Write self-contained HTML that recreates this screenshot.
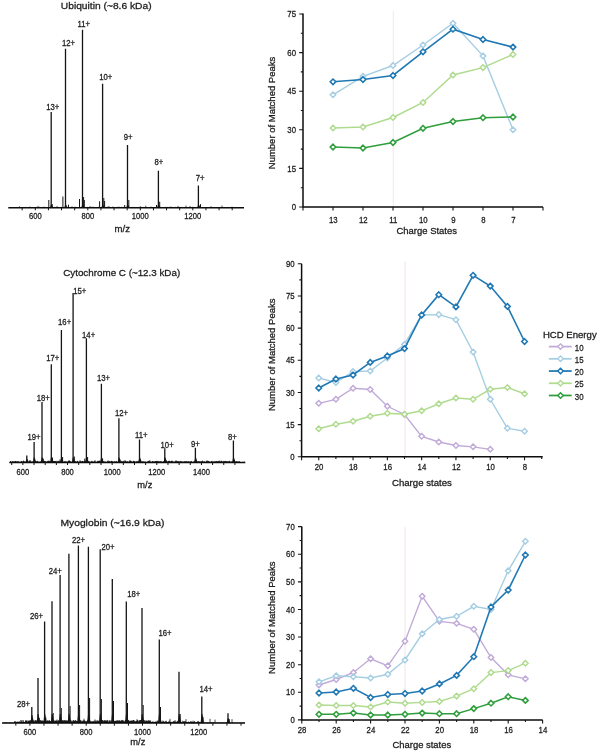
<!DOCTYPE html>
<html><head><meta charset="utf-8"><style>
html,body{margin:0;padding:0;background:#fff;width:599px;height:752px;overflow:hidden}
svg{display:block;will-change:transform}
text{font-family:"Liberation Sans", sans-serif;fill:#1c1c1c;stroke:#1c1c1c;stroke-width:0.28px}
</style></head><body>
<svg width="599" height="752" viewBox="0 0 599 752">
<rect width="599" height="752" fill="#fff"/>
<text x="60.80" y="9.30" font-size="9.9" text-anchor="start" textLength="90.80" lengthAdjust="spacingAndGlyphs" >Ubiquitin (~8.6 kDa)</text>
<path d="M19.50 207.70V206.31M30.00 207.70V206.52M38.00 207.70V205.92M44.00 207.70V206.61M57.00 207.70V206.06M72.00 207.70V206.26M75.00 207.70V206.63M90.00 207.70V206.09M93.00 207.70V206.66M109.00 207.70V206.18M113.00 207.70V206.62M119.00 207.70V206.59M140.30 207.70V206.19M145.80 207.70V205.71M151.00 207.70V206.55M171.00 207.70V206.43M178.00 207.70V205.95M186.00 207.70V205.56M190.00 207.70V206.01M211.00 207.70V206.22M222.00 207.70V205.53M232.00 207.70V206.64" stroke="#222" stroke-width="0.8" fill="none"/>
<path d="M9.00 207.70L9.00 206.90L9.60 207.30L10.20 207.40L10.80 207.42L11.40 207.28L12.00 206.93L12.60 207.37L13.20 207.09L13.80 207.05L14.40 207.24L15.00 207.12L15.60 207.46L16.20 207.46L16.80 207.36L17.40 207.02L18.00 207.20L18.60 207.28L19.20 207.09L19.80 207.18L20.40 207.29L21.00 206.94L21.60 207.01L22.20 207.33L22.80 207.10L23.40 207.13L24.00 206.89L24.60 206.99L25.20 207.30L25.80 206.81L26.40 207.42L27.00 207.21L27.60 206.97L28.20 207.39L28.80 207.16L29.40 207.47L30.00 207.03L30.60 206.96L31.20 207.10L31.80 206.89L32.40 207.28L33.00 207.01L33.60 207.08L34.20 207.09L34.80 207.18L35.40 206.91L36.00 206.84L36.60 207.17L37.20 207.04L37.80 207.46L38.40 207.01L39.00 207.05L39.60 206.80L40.20 206.92L40.80 207.30L41.40 207.23L42.00 207.03L42.60 207.48L43.20 207.18L43.80 207.38L44.40 207.42L45.00 207.46L45.60 206.96L46.20 207.41L46.80 207.33L47.40 207.23L48.00 206.89L48.60 207.44L49.20 207.19L49.80 207.12L50.40 206.88L51.00 206.93L51.60 206.90L52.20 207.31L52.80 207.21L53.40 207.25L54.00 206.88L54.60 206.83L55.20 207.39L55.80 207.38L56.40 207.34L57.00 207.34L57.60 207.16L58.20 207.09L58.80 207.32L59.40 207.50L60.00 207.21L60.60 207.24L61.20 207.10L61.80 206.83L62.40 207.02L63.00 207.14L63.60 207.07L64.20 207.03L64.80 207.46L65.40 206.87L66.00 206.95L66.60 206.89L67.20 206.94L67.80 207.23L68.40 207.22L69.00 207.43L69.60 207.06L70.20 207.46L70.80 207.45L71.40 207.35L72.00 207.39L72.60 207.26L73.20 207.46L73.80 207.50L74.40 207.39L75.00 207.43L75.60 207.25L76.20 207.48L76.80 206.89L77.40 207.07L78.00 207.40L78.60 207.32L79.20 207.26L79.80 207.25L80.40 207.41L81.00 206.91L81.60 206.80L82.20 207.17L82.80 207.16L83.40 207.44L84.00 207.43L84.60 207.26L85.20 207.31L85.80 206.92L86.40 207.39L87.00 207.48L87.60 206.83L88.20 207.13L88.80 207.40L89.40 207.12L90.00 207.48L90.60 207.13L91.20 206.82L91.80 206.90L92.40 207.01L93.00 207.32L93.60 207.24L94.20 207.38L94.80 206.96L95.40 207.13L96.00 206.95L96.60 207.27L97.20 207.34L97.80 206.93L98.40 206.81L99.00 206.90L99.60 206.94L100.20 206.93L100.80 206.98L101.40 207.34L102.00 207.14L102.60 207.25L103.20 207.48L103.80 207.48L104.40 207.30L105.00 207.32L105.60 207.02L106.20 206.83L106.80 207.19L107.40 206.84L108.00 206.81L108.60 206.83L109.20 207.24L109.80 207.35L110.40 207.34L111.00 207.36L111.60 207.36L112.20 207.06L112.80 206.87L113.40 206.91L114.00 207.16L114.60 207.04L115.20 206.94L115.80 207.44L116.40 207.04L117.00 206.86L117.60 206.95L118.20 206.97L118.80 207.17L119.40 207.38L120.00 206.95L120.60 207.27L121.20 206.94L121.80 206.82L122.40 207.22L123.00 207.22L123.60 206.84L124.20 206.99L124.80 207.38L125.40 207.41L126.00 207.39L126.60 206.87L127.20 206.94L127.80 207.40L128.40 206.92L129.00 206.81L129.60 207.04L130.20 207.25L130.80 207.12L131.40 207.41L132.00 207.49L132.60 206.82L133.20 207.05L133.80 207.13L134.40 206.85L135.00 207.20L135.60 206.89L136.20 206.92L136.80 207.35L137.40 207.32L138.00 207.29L138.60 207.33L139.20 207.09L139.80 207.32L140.40 207.21L141.00 207.41L141.60 206.86L142.20 207.25L142.80 207.18L143.40 207.09L144.00 206.87L144.60 207.21L145.20 206.86L145.80 207.15L146.40 207.13L147.00 207.13L147.60 207.49L148.20 207.19L148.80 207.37L149.40 207.50L150.00 206.94L150.60 207.38L151.20 207.17L151.80 206.99L152.40 207.11L153.00 207.27L153.60 207.14L154.20 207.11L154.80 206.95L155.40 207.43L156.00 207.11L156.60 207.33L157.20 207.31L157.80 206.96L158.40 207.14L159.00 207.11L159.60 206.97L160.20 206.86L160.80 207.19L161.40 207.07L162.00 207.15L162.60 207.14L163.20 207.02L163.80 207.18L164.40 207.13L165.00 207.17L165.60 206.84L166.20 207.01L166.80 206.89L167.40 206.84L168.00 207.32L168.60 207.11L169.20 206.84L169.80 206.91L170.40 207.40L171.00 207.41L171.60 207.19L172.20 207.45L172.80 207.33L173.40 207.45L174.00 207.03L174.60 206.95L175.20 206.87L175.80 207.39L176.40 207.00L177.00 207.04L177.60 207.40L178.20 206.88L178.80 206.82L179.40 207.35L180.00 206.83L180.60 207.22L181.20 207.16L181.80 206.81L182.40 206.92L183.00 207.39L183.60 207.20L184.20 207.14L184.80 207.26L185.40 207.36L186.00 207.28L186.60 206.99L187.20 207.49L187.80 207.11L188.40 207.19L189.00 207.49L189.60 207.27L190.20 207.06L190.80 207.14L191.40 207.45L192.00 206.81L192.60 206.95L193.20 206.82L193.80 207.43L194.40 207.31L195.00 207.47L195.60 206.95L196.20 207.31L196.80 207.41L197.40 207.20L198.00 206.86L198.60 206.93L199.20 207.32L199.80 207.40L200.40 207.42L201.00 207.53L201.60 207.49L202.20 207.67L202.80 207.68L203.40 207.49L204.00 207.57L204.60 207.68L205.20 207.42L205.80 207.51L206.40 207.46L207.00 207.67L207.60 207.44L208.20 207.68L208.80 207.44L209.40 207.56L210.00 207.60L210.60 207.53L211.20 207.42L211.80 207.62L212.40 207.66L213.00 207.54L213.60 207.63L214.20 207.67L214.80 207.65L215.40 207.68L216.00 207.64L216.60 207.61L217.20 207.61L217.80 207.47L218.40 207.61L219.00 207.55L219.60 207.65L220.20 207.60L220.80 207.69L221.40 207.62L222.00 207.70L222.60 207.48L223.20 207.53L223.80 207.64L224.40 207.56L225.00 207.42L225.60 207.67L226.20 207.45L226.80 207.57L227.40 207.55L228.00 207.45L228.60 207.58L229.20 207.55L229.80 207.49L230.40 207.41L231.00 207.60L231.60 207.45L232.20 207.49L232.80 207.51L233.40 207.58L234.00 207.60L234.60 207.68L235.20 207.66L235.80 207.68L236.40 207.48L237.00 207.62L237.60 207.65L238.20 207.67L238.80 207.45L239.40 207.44L240.00 207.50L240.60 207.62L241.20 207.63L241.80 207.61L242.40 207.56L243.00 207.65L243.00 207.70Z" fill="#1a1a1a"/>
<path d="M50.00 207.70L50.90 204.70L51.80 204.70L53.40 207.70ZM64.30 207.70L65.20 204.70L66.10 204.70L67.70 207.70ZM81.30 207.70L82.20 204.70L83.10 204.70L84.70 207.70ZM101.40 207.70L102.30 204.70L103.20 204.70L104.80 207.70ZM126.30 207.70L127.20 204.70L128.10 204.70L129.70 207.70ZM157.20 207.70L158.10 204.70L159.00 204.70L160.60 207.70ZM197.20 207.70L198.10 204.70L199.00 204.70L200.60 207.70Z" fill="#1a1a1a"/>
<path d="M48.80 207.70V200.00M52.20 207.70V204.00M62.90 207.70V196.50M68.50 207.70V204.70M79.50 207.70V199.00M83.60 207.70V197.00M84.30 207.70V200.00M99.60 207.70V201.20M103.80 207.70V198.00M104.60 207.70V201.00M124.70 207.70V205.00M128.80 207.70V200.00M159.70 207.70V201.70M200.50 207.70V204.20M156.50 207.70V205.00" stroke="#151515" stroke-width="1.0" fill="none"/>
<path d="M51.20 207.70V112.00M65.50 207.70V48.70M82.50 207.70V29.70M102.60 207.70V83.80M127.50 207.70V145.00M158.40 207.70V170.80M198.40 207.70V185.50" stroke="#141414" stroke-width="1.3" fill="none"/>
<line x1="8.30" y1="207.70" x2="244.00" y2="207.70" stroke="#0d0d0d" stroke-width="1.5"/>
<path d="M22.18 207.70V210.30M35.30 207.70V210.30M48.43 207.70V210.30M61.55 207.70V210.30M74.68 207.70V210.30M87.80 207.70V210.30M100.93 207.70V210.30M114.05 207.70V210.30M127.18 207.70V210.30M140.30 207.70V210.30M153.43 207.70V210.30M166.55 207.70V210.30M179.68 207.70V210.30M192.80 207.70V210.30M205.93 207.70V210.30M219.05 207.70V210.30M232.18 207.70V210.30" stroke="#111" stroke-width="1.0" fill="none"/>
<text x="35.30" y="218.60" font-size="8.6" text-anchor="middle" textLength="12.68" lengthAdjust="spacingAndGlyphs" >600</text>
<text x="87.80" y="218.60" font-size="8.6" text-anchor="middle" textLength="12.68" lengthAdjust="spacingAndGlyphs" >800</text>
<text x="140.30" y="218.60" font-size="8.6" text-anchor="middle" textLength="16.91" lengthAdjust="spacingAndGlyphs" >1000</text>
<text x="192.80" y="218.60" font-size="8.6" text-anchor="middle" textLength="16.91" lengthAdjust="spacingAndGlyphs" >1200</text>
<text x="46.30" y="109.50" font-size="8.4" text-anchor="start" textLength="13.06" lengthAdjust="spacingAndGlyphs" >13+</text>
<text x="62.00" y="45.80" font-size="8.4" text-anchor="start" textLength="13.06" lengthAdjust="spacingAndGlyphs" >12+</text>
<text x="77.50" y="26.70" font-size="8.4" text-anchor="start" textLength="12.49" lengthAdjust="spacingAndGlyphs" >11+</text>
<text x="99.30" y="79.50" font-size="8.4" text-anchor="start" textLength="13.06" lengthAdjust="spacingAndGlyphs" >10+</text>
<text x="123.80" y="140.00" font-size="8.4" text-anchor="start" textLength="8.78" lengthAdjust="spacingAndGlyphs" >9+</text>
<text x="154.50" y="164.50" font-size="8.4" text-anchor="start" textLength="8.78" lengthAdjust="spacingAndGlyphs" >8+</text>
<text x="195.80" y="180.50" font-size="8.4" text-anchor="start" textLength="8.78" lengthAdjust="spacingAndGlyphs" >7+</text>
<text x="114.60" y="232.20" font-size="9.6" text-anchor="start" textLength="15.40" lengthAdjust="spacingAndGlyphs" >m/z</text>
<text x="63.20" y="275.70" font-size="9.9" text-anchor="start" textLength="117.00" lengthAdjust="spacingAndGlyphs" >Cytochrome C (~12.3 kDa)</text>
<path d="M10.89 462.40V461.84M14.92 462.40V461.13M17.09 462.40V461.86M20.93 462.40V461.79M22.71 462.40V462.10M25.76 462.40V461.63M29.01 462.40V461.90M32.01 462.40V462.10M34.53 462.40V462.01M37.80 462.40V462.06M40.04 462.40V461.80M43.47 462.40V461.51M47.06 462.40V461.35M50.32 462.40V461.38M53.76 462.40V461.71M55.65 462.40V461.12M58.30 462.40V461.38M62.29 462.40V462.06M65.67 462.40V461.21M68.25 462.40V461.37M71.62 462.40V461.96M74.05 462.40V461.60M77.67 462.40V461.30M80.65 462.40V461.52M83.79 462.40V461.42M86.39 462.40V461.87M88.06 462.40V461.97M91.72 462.40V462.00M95.67 462.40V461.54M98.26 462.40V461.47M101.36 462.40V461.61M103.01 462.40V461.30M107.50 462.40V461.60M110.07 462.40V461.44M112.13 462.40V461.36M115.50 462.40V462.03M118.53 462.40V461.37M121.41 462.40V461.36M125.95 462.40V461.61M127.77 462.40V461.62M131.37 462.40V461.33M134.23 462.40V461.46M136.15 462.40V461.95M139.51 462.40V461.36M142.61 462.40V461.53M145.02 462.40V462.04M148.54 462.40V461.43M152.38 462.40V461.42M154.58 462.40V461.58M157.93 462.40V461.63M160.24 462.40V461.21M163.40 462.40V461.12M167.87 462.40V462.08M169.92 462.40V461.28M173.94 462.40V461.65M175.54 462.40V461.89M179.89 462.40V461.89M182.16 462.40V461.96M185.05 462.40V461.15M187.27 462.40V461.28M191.02 462.40V461.21M194.41 462.40V461.87M197.80 462.40V461.61M199.05 462.40V462.10M202.98 462.40V461.65M205.60 462.40V461.96M208.69 462.40V461.78M212.68 462.40V462.10M215.50 462.40V461.26M217.24 462.40V461.17M221.43 462.40V461.20M223.58 462.40V461.73M226.79 462.40V461.10M230.18 462.40V461.74M232.86 462.40V461.82M235.10 462.40V462.00M239.67 462.40V461.81M242.87 462.40V461.85M244.53 462.40V461.59M48.00 462.40V460.95M57.00 462.40V460.71M69.00 462.40V459.96M80.00 462.40V460.05M95.00 462.40V460.14M108.00 462.40V460.38M125.00 462.40V460.01M130.00 462.40V459.98M150.00 462.40V460.49M176.00 462.40V460.26M185.00 462.40V461.14M207.00 462.40V460.25M220.00 462.40V460.61" stroke="#222" stroke-width="0.8" fill="none"/>
<path d="M10.00 462.40L10.00 460.95L10.60 461.10L11.20 461.60L11.80 461.93L12.40 460.70L13.00 461.82L13.60 461.34L14.20 461.52L14.80 461.58L15.40 460.97L16.00 460.63L16.60 461.64L17.20 461.08L17.80 461.58L18.40 461.22L19.00 461.45L19.60 461.77L20.20 461.77L20.80 461.71L21.40 460.73L22.00 461.30L22.60 461.69L23.20 460.73L23.80 460.60L24.40 461.37L25.00 461.80L25.60 461.73L26.20 461.87L26.80 461.52L27.40 461.87L28.00 461.67L28.60 461.64L29.20 461.20L29.80 460.76L30.40 460.95L31.00 461.42L31.60 461.42L32.20 461.27L32.80 461.47L33.40 461.53L34.00 461.91L34.60 461.61L35.20 460.65L35.80 461.82L36.40 461.30L37.00 461.12L37.60 460.79L38.20 461.70L38.80 461.62L39.40 461.65L40.00 461.44L40.60 461.38L41.20 460.66L41.80 460.81L42.40 460.78L43.00 461.97L43.60 461.95L44.20 461.01L44.80 460.75L45.40 461.34L46.00 461.18L46.60 462.00L47.20 461.45L47.80 460.70L48.40 460.84L49.00 460.80L49.60 460.64L50.20 461.65L50.80 461.85L51.40 461.78L52.00 461.27L52.60 461.05L53.20 460.68L53.80 460.99L54.40 461.09L55.00 460.93L55.60 461.36L56.20 461.23L56.80 461.94L57.40 460.90L58.00 461.67L58.60 460.71L59.20 461.10L59.80 461.57L60.40 461.82L61.00 461.65L61.60 461.11L62.20 461.02L62.80 461.84L63.40 461.90L64.00 461.27L64.60 461.18L65.20 461.46L65.80 461.69L66.40 461.16L67.00 461.99L67.60 461.58L68.20 461.36L68.80 460.66L69.40 461.10L70.00 460.76L70.60 461.33L71.20 461.67L71.80 461.65L72.40 460.66L73.00 461.01L73.60 461.57L74.20 461.97L74.80 461.30L75.40 461.06L76.00 461.41L76.60 461.64L77.20 461.07L77.80 460.70L78.40 461.68L79.00 461.95L79.60 461.53L80.20 461.41L80.80 461.04L81.40 461.72L82.00 460.88L82.60 460.97L83.20 461.29L83.80 461.71L84.40 460.64L85.00 461.56L85.60 460.85L86.20 461.68L86.80 461.69L87.40 460.94L88.00 461.59L88.60 460.67L89.20 461.31L89.80 461.74L90.40 461.69L91.00 461.42L91.60 461.07L92.20 460.67L92.80 461.80L93.40 461.45L94.00 461.70L94.60 460.64L95.20 461.80L95.80 461.93L96.40 461.92L97.00 461.45L97.60 460.74L98.20 460.76L98.80 460.97L99.40 460.60L100.00 460.70L100.60 461.54L101.20 461.74L101.80 460.69L102.40 460.96L103.00 461.96L103.60 461.07L104.20 461.47L104.80 461.48L105.40 461.54L106.00 461.76L106.60 462.00L107.20 461.61L107.80 461.51L108.40 460.66L109.00 461.83L109.60 460.65L110.20 461.71L110.80 461.50L111.40 460.85L112.00 460.85L112.60 461.39L113.20 461.93L113.80 461.34L114.40 461.48L115.00 460.71L115.60 461.73L116.20 461.49L116.80 460.74L117.40 461.96L118.00 461.42L118.60 460.86L119.20 460.93L119.80 461.94L120.40 461.95L121.00 461.91L121.60 460.71L122.20 461.64L122.80 460.95L123.40 460.74L124.00 461.53L124.60 461.62L125.20 460.66L125.80 461.14L126.40 461.63L127.00 461.00L127.60 461.56L128.20 461.61L128.80 461.99L129.40 460.94L130.00 460.72L130.60 461.11L131.20 460.68L131.80 461.97L132.40 461.67L133.00 461.33L133.60 460.66L134.20 460.66L134.80 461.46L135.40 461.65L136.00 461.40L136.60 461.31L137.20 460.70L137.80 461.74L138.40 460.88L139.00 460.97L139.60 460.85L140.20 460.92L140.80 461.15L141.40 461.54L142.00 461.55L142.60 461.49L143.20 460.90L143.80 461.89L144.40 461.72L145.00 460.95L145.60 461.65L146.20 461.91L146.80 461.95L147.40 461.23L148.00 461.54L148.60 460.63L149.20 460.76L149.80 460.62L150.40 461.63L151.00 461.88L151.60 461.87L152.20 461.30L152.80 461.01L153.40 461.37L154.00 461.67L154.60 461.42L155.20 461.13L155.80 461.06L156.40 460.95L157.00 460.81L157.60 461.07L158.20 461.83L158.80 460.82L159.40 461.59L160.00 461.21L160.60 461.48L161.20 460.97L161.80 461.72L162.40 461.65L163.00 461.66L163.60 461.79L164.20 460.76L164.80 461.19L165.40 461.54L166.00 461.45L166.60 460.61L167.20 461.29L167.80 461.68L168.40 460.87L169.00 461.09L169.60 460.61L170.20 461.86L170.80 461.34L171.40 460.85L172.00 460.82L172.60 460.72L173.20 461.94L173.80 461.59L174.40 461.83L175.00 461.73L175.60 460.64L176.20 461.18L176.80 460.70L177.40 461.48L178.00 460.79L178.60 461.37L179.20 461.64L179.80 460.91L180.40 460.68L181.00 461.85L181.60 461.17L182.20 461.13L182.80 461.70L183.40 461.48L184.00 461.80L184.60 461.71L185.20 461.64L185.80 461.16L186.40 461.09L187.00 461.72L187.60 461.98L188.20 461.54L188.80 461.05L189.40 461.74L190.00 461.56L190.60 461.72L191.20 460.89L191.80 461.23L192.40 461.91L193.00 461.86L193.60 461.45L194.20 461.23L194.80 461.11L195.40 461.87L196.00 461.77L196.60 461.03L197.20 461.43L197.80 461.60L198.40 461.57L199.00 460.67L199.60 461.56L200.20 461.21L200.80 461.50L201.40 461.42L202.00 460.79L202.60 460.60L203.20 461.49L203.80 461.72L204.40 460.98L205.00 461.71L205.60 461.99L206.20 460.74L206.80 461.41L207.40 460.85L208.00 461.43L208.60 460.76L209.20 461.35L209.80 461.77L210.40 461.98L211.00 461.23L211.60 461.10L212.20 460.73L212.80 461.88L213.40 461.13L214.00 461.48L214.60 461.29L215.20 461.80L215.80 461.60L216.40 461.27L217.00 460.70L217.60 461.85L218.20 461.31L218.80 460.87L219.40 460.65L220.00 461.72L220.60 461.82L221.20 460.68L221.80 460.63L222.40 461.32L223.00 461.93L223.60 460.70L224.20 461.46L224.80 460.73L225.40 461.13L226.00 460.85L226.60 461.78L227.20 460.90L227.80 461.69L228.40 461.43L229.00 460.82L229.60 460.84L230.20 461.74L230.80 461.69L231.40 461.44L232.00 461.27L232.60 461.46L233.20 461.83L233.80 461.65L234.40 460.99L235.00 460.74L235.60 461.94L236.20 461.21L236.80 460.94L237.40 461.95L238.00 460.83L238.60 461.84L239.20 461.16L239.80 461.23L240.00 462.40Z" fill="#1a1a1a"/>
<path d="M25.60 462.40L26.50 459.00L27.40 459.00L29.00 462.40ZM32.90 462.40L33.80 457.40L34.70 457.40L36.30 462.40ZM40.80 462.40L41.70 457.40L42.60 457.40L44.20 462.40ZM50.10 462.40L51.00 457.40L51.90 457.40L53.50 462.40ZM60.20 462.40L61.10 457.40L62.00 457.40L63.60 462.40ZM71.90 462.40L72.80 457.40L73.70 457.40L75.30 462.40ZM85.20 462.40L86.10 457.40L87.00 457.40L88.60 462.40ZM100.20 462.40L101.10 457.40L102.00 457.40L103.60 462.40ZM117.70 462.40L118.60 457.40L119.50 457.40L121.10 462.40ZM138.30 462.40L139.20 457.40L140.10 457.40L141.70 462.40ZM163.60 462.40L164.50 457.40L165.40 457.40L167.00 462.40ZM194.20 462.40L195.10 457.40L196.00 457.40L197.60 462.40ZM232.20 462.40L233.10 457.40L234.00 457.40L235.60 462.40Z" fill="#1a1a1a"/>
<path d="M43.20 462.40V458.50M52.50 462.40V457.50M62.60 462.40V457.00M74.30 462.40V456.50M87.60 462.40V457.00M102.60 462.40V458.50M120.00 462.40V459.50M140.60 462.40V459.50M60.00 462.40V459.50M84.80 462.40V458.50M30.00 462.40V460.00M166.00 462.40V460.00M234.50 462.40V460.00" stroke="#151515" stroke-width="1.0" fill="none"/>
<path d="M26.80 462.40V455.60M34.10 462.40V442.00M42.00 462.40V402.00M51.30 462.40V364.30M61.40 462.40V330.00M73.10 462.40V293.00M86.40 462.40V338.20M101.40 462.40V383.80M118.90 462.40V418.30M139.50 462.40V439.60M164.80 462.40V448.20M195.40 462.40V447.70M233.40 462.40V440.60" stroke="#141414" stroke-width="1.3" fill="none"/>
<line x1="9.30" y1="462.40" x2="245.30" y2="462.40" stroke="#0d0d0d" stroke-width="1.5"/>
<path d="M11.72 462.40V465.00M22.88 462.40V465.00M34.04 462.40V465.00M45.20 462.40V465.00M56.36 462.40V465.00M67.52 462.40V465.00M78.68 462.40V465.00M89.84 462.40V465.00M101.00 462.40V465.00M112.16 462.40V465.00M123.32 462.40V465.00M134.48 462.40V465.00M145.64 462.40V465.00M156.80 462.40V465.00M167.96 462.40V465.00M179.12 462.40V465.00M190.28 462.40V465.00M201.44 462.40V465.00M212.60 462.40V465.00M223.76 462.40V465.00M234.92 462.40V465.00" stroke="#111" stroke-width="1.0" fill="none"/>
<text x="22.88" y="474.60" font-size="8.6" text-anchor="middle" textLength="12.68" lengthAdjust="spacingAndGlyphs" >600</text>
<text x="67.52" y="474.60" font-size="8.6" text-anchor="middle" textLength="12.68" lengthAdjust="spacingAndGlyphs" >800</text>
<text x="112.16" y="474.60" font-size="8.6" text-anchor="middle" textLength="16.91" lengthAdjust="spacingAndGlyphs" >1000</text>
<text x="156.80" y="474.60" font-size="8.6" text-anchor="middle" textLength="16.91" lengthAdjust="spacingAndGlyphs" >1200</text>
<text x="201.44" y="474.60" font-size="8.6" text-anchor="middle" textLength="16.91" lengthAdjust="spacingAndGlyphs" >1400</text>
<text x="27.50" y="439.50" font-size="8.4" text-anchor="start" textLength="13.06" lengthAdjust="spacingAndGlyphs" >19+</text>
<text x="36.80" y="400.50" font-size="8.4" text-anchor="start" textLength="13.06" lengthAdjust="spacingAndGlyphs" >18+</text>
<text x="46.30" y="360.80" font-size="8.4" text-anchor="start" textLength="13.06" lengthAdjust="spacingAndGlyphs" >17+</text>
<text x="58.10" y="325.30" font-size="8.4" text-anchor="start" textLength="13.06" lengthAdjust="spacingAndGlyphs" >16+</text>
<text x="73.20" y="294.20" font-size="8.4" text-anchor="start" textLength="13.06" lengthAdjust="spacingAndGlyphs" >15+</text>
<text x="82.10" y="337.50" font-size="8.4" text-anchor="start" textLength="13.06" lengthAdjust="spacingAndGlyphs" >14+</text>
<text x="97.00" y="381.30" font-size="8.4" text-anchor="start" textLength="13.06" lengthAdjust="spacingAndGlyphs" >13+</text>
<text x="115.00" y="415.80" font-size="8.4" text-anchor="start" textLength="13.06" lengthAdjust="spacingAndGlyphs" >12+</text>
<text x="135.00" y="437.50" font-size="8.4" text-anchor="start" textLength="12.49" lengthAdjust="spacingAndGlyphs" >11+</text>
<text x="160.60" y="447.70" font-size="8.4" text-anchor="start" textLength="13.06" lengthAdjust="spacingAndGlyphs" >10+</text>
<text x="191.00" y="446.80" font-size="8.4" text-anchor="start" textLength="8.78" lengthAdjust="spacingAndGlyphs" >9+</text>
<text x="228.00" y="440.00" font-size="8.4" text-anchor="start" textLength="8.78" lengthAdjust="spacingAndGlyphs" >8+</text>
<text x="137.30" y="487.80" font-size="9.6" text-anchor="start" textLength="15.00" lengthAdjust="spacingAndGlyphs" >m/z</text>
<text x="60.40" y="526.30" font-size="9.9" text-anchor="start" textLength="104.10" lengthAdjust="spacingAndGlyphs" >Myoglobin (~16.9 kDa)</text>
<path d="M3.50 723.10V722.59M4.34 723.10V722.39M5.34 723.10V722.34M6.36 723.10V722.49M7.02 723.10V722.37M8.39 723.10V722.64M9.61 723.10V722.25M10.37 723.10V722.67M11.38 723.10V722.73M12.10 723.10V722.50M13.07 723.10V722.49M14.41 723.10V722.77M15.51 723.10V722.74M16.59 723.10V722.26M17.41 723.10V722.76M18.40 723.10V722.54M19.76 723.10V722.43M20.69 723.10V720.11M21.59 723.10V720.60M22.15 723.10V720.15M23.39 723.10V720.22M24.73 723.10V722.35M25.63 723.10V720.29M26.05 723.10V721.85M27.60 723.10V722.37M28.72 723.10V722.06M29.65 723.10V722.41M30.40 723.10V720.32M31.17 723.10V722.09M32.40 723.10V721.94M33.03 723.10V722.31M34.13 723.10V720.27M35.54 723.10V720.38M36.13 723.10V720.68M37.09 723.10V721.37M38.51 723.10V721.83M39.70 723.10V721.30M40.46 723.10V720.42M41.08 723.10V720.12M42.50 723.10V721.74M43.64 723.10V722.09M44.79 723.10V721.24M45.29 723.10V720.74M46.35 723.10V722.32M47.59 723.10V722.67M48.66 723.10V722.12M49.51 723.10V720.14M50.47 723.10V721.01M51.25 723.10V722.80M52.03 723.10V722.40M53.49 723.10V721.63M54.41 723.10V720.38M55.11 723.10V722.19M56.52 723.10V722.74M57.00 723.10V721.84M58.09 723.10V721.84M59.18 723.10V721.22M60.47 723.10V722.25M61.50 723.10V721.52M62.11 723.10V720.27M63.19 723.10V722.40M64.08 723.10V721.08M65.70 723.10V720.69M66.32 723.10V722.09M67.01 723.10V721.06M68.45 723.10V721.85M69.52 723.10V721.60M70.75 723.10V720.82M71.20 723.10V720.36M72.04 723.10V721.36M73.32 723.10V722.16M74.05 723.10V720.70M75.01 723.10V721.31M76.75 723.10V722.42M77.16 723.10V721.16M78.41 723.10V721.07M79.65 723.10V722.33M80.25 723.10V721.99M81.04 723.10V720.40M82.63 723.10V720.87M83.01 723.10V720.52M84.60 723.10V721.54M85.59 723.10V721.58M86.18 723.10V722.52M87.19 723.10V722.70M88.27 723.10V720.78M89.56 723.10V720.52M90.57 723.10V722.08M91.44 723.10V721.62M92.63 723.10V721.39M93.21 723.10V721.07M94.77 723.10V722.21M95.70 723.10V722.76M96.21 723.10V722.16M97.60 723.10V720.25M98.60 723.10V721.92M99.70 723.10V721.91M100.19 723.10V720.35M101.50 723.10V720.93M102.53 723.10V720.16M103.38 723.10V720.53M104.56 723.10V720.48M105.35 723.10V720.84M106.46 723.10V721.97M107.17 723.10V721.12M108.06 723.10V720.34M109.12 723.10V722.73M110.09 723.10V720.29M111.28 723.10V722.42M112.02 723.10V722.69M113.55 723.10V721.09M114.56 723.10V720.81M115.05 723.10V721.21M116.29 723.10V720.59M117.66 723.10V720.39M118.05 723.10V720.46M119.73 723.10V720.25M120.09 723.10V722.24M121.09 723.10V722.71M122.68 723.10V720.61M123.51 723.10V720.57M124.51 723.10V722.02M125.08 723.10V722.54M126.61 723.10V722.25M127.26 723.10V721.66M128.02 723.10V722.11M129.23 723.10V720.87M130.29 723.10V721.93M131.77 723.10V721.44M132.68 723.10V721.13M133.02 723.10V721.69M134.35 723.10V720.71M135.28 723.10V720.90M136.43 723.10V722.22M137.69 723.10V722.55M138.66 723.10V722.34M139.00 723.10V722.25M140.61 723.10V720.16M141.00 723.10V721.47M142.39 723.10V720.65M143.15 723.10V721.46M144.28 723.10V720.55M145.21 723.10V720.25M146.23 723.10V722.22M147.56 723.10V721.45M148.09 723.10V721.08M149.06 723.10V720.67M150.56 723.10V720.68M151.50 723.10V721.84M152.32 723.10V721.73M153.71 723.10V722.57M154.71 723.10V722.73M155.16 723.10V722.09M156.72 723.10V721.45M157.30 723.10V720.41M158.19 723.10V721.56M159.43 723.10V720.76M160.60 723.10V721.05M161.28 723.10V721.92M162.12 723.10V720.52M163.53 723.10V720.80M164.14 723.10V721.62M165.62 723.10V721.24M166.10 723.10V721.55M167.71 723.10V722.16M168.15 723.10V721.99M169.56 723.10V720.52M170.12 723.10V722.38M171.20 723.10V721.92M172.42 723.10V722.37M173.26 723.10V722.29M174.78 723.10V720.83M175.08 723.10V720.20M176.08 723.10V721.76M177.79 723.10V720.65M178.59 723.10V721.63M179.16 723.10V721.08M180.09 723.10V722.24M181.31 723.10V722.71M182.32 723.10V720.66M183.55 723.10V721.45M184.51 723.10V721.55M185.11 723.10V721.17M186.32 723.10V722.28M187.73 723.10V722.50M188.46 723.10V722.28M189.34 723.10V722.64M190.58 723.10V722.18M191.62 723.10V722.31M192.68 723.10V722.32M193.51 723.10V722.48M194.25 723.10V722.36M195.08 723.10V722.51M196.63 723.10V722.30M197.50 723.10V722.62M198.34 723.10V722.48M199.50 723.10V722.51M200.54 723.10V722.15M201.15 723.10V722.34M202.62 723.10V722.53M203.39 723.10V722.12M204.03 723.10V722.42M205.13 723.10V722.25M206.75 723.10V722.44M207.08 723.10V722.40M208.43 723.10V722.30M209.41 723.10V722.35M210.66 723.10V722.43M211.33 723.10V722.14M212.17 723.10V722.32M213.31 723.10V722.27M214.10 723.10V722.11M215.28 723.10V722.76M216.22 723.10V722.52M217.01 723.10V722.51M218.34 723.10V722.31M219.28 723.10V722.61M220.18 723.10V722.28M221.75 723.10V722.43M222.18 723.10V722.24M223.31 723.10V722.65M224.10 723.10V722.26M225.65 723.10V722.36M226.38 723.10V722.41M227.18 723.10V722.13M228.28 723.10V722.67M229.65 723.10V722.64M230.37 723.10V722.74M231.44 723.10V722.77M232.67 723.10V722.73M233.68 723.10V722.75M234.30 723.10V722.75M235.34 723.10V722.76M236.00 723.10V722.66M237.22 723.10V722.75M238.24 723.10V722.70M239.34 723.10V722.67M240.53 723.10V722.73M241.74 723.10V722.63M242.05 723.10V722.63M243.72 723.10V722.64M244.11 723.10V722.63M57.00 723.10V719.52M63.00 723.10V721.06M75.00 723.10V721.07M84.00 723.10V718.72M95.00 723.10V719.46M107.00 723.10V720.47M118.00 723.10V720.85M121.00 723.10V720.74M132.00 723.10V720.52M137.00 723.10V719.16M150.00 723.10V720.23M166.00 723.10V720.72M170.00 723.10V718.84M186.00 723.10V719.12M193.00 723.10V720.68M210.00 723.10V718.87M215.00 723.10V719.58M232.00 723.10V719.15" stroke="#222" stroke-width="0.8" fill="none"/>
<path d="M14.00 723.10L14.00 721.56L14.60 721.25L15.20 721.40L15.80 721.33L16.40 722.22L17.00 721.53L17.60 721.76L18.20 721.46L18.80 721.89L19.40 721.26L20.00 721.72L20.60 722.13L21.20 722.17L21.80 722.30L22.40 721.81L23.00 722.42L23.60 721.85L24.20 722.30L24.80 721.81L25.40 720.80L26.00 720.71L26.60 720.00L27.20 721.89L27.80 720.05L28.40 720.87L29.00 720.66L29.60 720.44L30.20 720.05L30.80 721.08L31.40 720.98L32.00 719.79L32.60 721.73L33.20 720.50L33.80 720.50L34.40 721.84L35.00 720.56L35.60 720.40L36.20 719.85L36.80 721.17L37.40 719.74L38.00 720.78L38.60 720.83L39.20 719.93L39.80 721.83L40.40 720.32L41.00 720.52L41.60 721.16L42.20 720.00L42.80 721.09L43.40 720.86L44.00 720.74L44.60 720.20L45.20 721.44L45.80 720.94L46.40 720.97L47.00 720.68L47.60 720.08L48.20 721.26L48.80 720.08L49.40 721.01L50.00 720.79L50.60 721.30L51.20 720.79L51.80 719.76L52.40 720.46L53.00 720.16L53.60 721.17L54.20 721.20L54.80 721.24L55.40 720.61L56.00 720.50L56.60 720.17L57.20 721.81L57.80 720.31L58.40 719.95L59.00 720.70L59.60 721.79L60.20 721.24L60.80 721.89L61.40 721.48L62.00 719.87L62.60 720.56L63.20 720.45L63.80 720.16L64.40 719.90L65.00 720.55L65.60 720.54L66.20 720.52L66.80 720.37L67.40 720.59L68.00 720.40L68.60 721.43L69.20 720.43L69.80 720.89L70.40 720.22L71.00 721.68L71.60 721.50L72.20 721.82L72.80 720.20L73.40 719.89L74.00 720.46L74.60 721.09L75.20 720.09L75.80 720.17L76.40 720.66L77.00 721.33L77.60 721.24L78.20 720.97L78.80 721.20L79.40 720.95L80.00 720.49L80.60 719.85L81.20 721.78L81.80 720.65L82.40 721.81L83.00 721.64L83.60 720.12L84.20 720.63L84.80 719.88L85.40 720.92L86.00 721.87L86.60 721.05L87.20 720.60L87.80 719.84L88.40 719.74L89.00 720.85L89.60 720.99L90.20 721.68L90.80 720.48L91.40 721.43L92.00 721.57L92.60 721.87L93.20 721.89L93.80 720.40L94.40 721.63L95.00 719.77L95.60 721.71L96.20 719.99L96.80 721.62L97.40 721.86L98.00 720.32L98.60 721.37L99.20 720.29L99.80 721.49L100.40 721.79L101.00 720.20L101.60 720.33L102.20 720.02L102.80 720.29L103.40 721.71L104.00 720.52L104.60 720.34L105.20 720.89L105.80 719.85L106.40 721.34L107.00 719.78L107.60 720.32L108.20 721.87L108.80 721.87L109.40 720.47L110.00 720.10L110.60 721.72L111.20 721.22L111.80 720.30L112.40 721.53L113.00 720.01L113.60 720.83L114.20 721.77L114.80 721.09L115.40 720.64L116.00 720.93L116.60 720.41L117.20 721.58L117.80 720.15L118.40 721.10L119.00 720.48L119.60 720.51L120.20 720.98L120.80 721.05L121.40 720.17L122.00 719.82L122.60 720.17L123.20 720.65L123.80 721.26L124.40 721.77L125.00 719.76L125.60 720.35L126.20 720.08L126.80 721.17L127.40 720.57L128.00 719.75L128.60 720.07L129.20 720.58L129.80 721.22L130.40 720.96L131.00 719.95L131.60 721.07L132.20 720.39L132.80 720.58L133.40 719.93L134.00 720.12L134.60 721.28L135.20 721.90L135.80 721.32L136.40 720.97L137.00 720.61L137.60 720.10L138.20 719.95L138.80 721.81L139.40 720.07L140.00 720.11L140.60 719.99L141.20 720.64L141.80 721.30L142.40 720.03L143.00 720.12L143.60 720.39L144.20 719.89L144.80 721.14L145.40 721.71L146.00 720.68L146.60 720.15L147.20 721.46L147.80 720.25L148.40 719.85L149.00 721.39L149.60 720.56L150.20 721.55L150.80 721.85L151.40 722.21L152.00 722.14L152.60 721.45L153.20 721.39L153.80 721.86L154.40 722.38L155.00 721.37L155.60 721.42L156.20 722.17L156.80 721.69L157.40 721.24L158.00 721.26L158.60 721.77L159.20 721.83L159.80 721.67L160.40 722.24L161.00 722.23L161.60 722.25L162.20 721.52L162.80 721.99L163.40 721.71L164.00 721.94L164.60 721.78L165.20 722.29L165.80 722.44L166.40 721.10L167.00 721.98L167.60 722.35L168.20 721.61L168.80 721.40L169.40 722.28L170.00 721.66L170.60 722.02L171.20 721.77L171.80 722.47L172.40 722.45L173.00 721.11L173.60 721.29L174.20 721.82L174.80 721.71L175.40 722.13L176.00 721.41L176.60 721.90L177.20 721.17L177.80 721.43L178.40 721.35L179.00 721.15L179.60 722.14L180.20 722.45L180.80 722.22L181.40 722.25L182.00 722.38L182.60 722.43L183.20 721.72L183.80 721.28L184.40 721.86L185.00 721.17L185.60 721.23L186.20 722.41L186.80 721.66L187.40 721.94L188.00 722.33L188.60 721.16L189.20 722.14L189.80 721.71L190.40 721.60L191.00 721.16L191.60 721.56L192.20 721.95L192.80 721.87L193.40 722.28L194.00 721.15L194.60 721.11L195.20 722.19L195.80 722.45L196.40 722.14L197.00 722.01L197.60 721.24L198.20 721.23L198.80 721.33L199.40 722.43L200.00 721.40L200.00 723.10Z" fill="#1a1a1a"/>
<path d="M30.60 723.10L31.50 715.05L32.40 715.05L34.00 723.10ZM36.80 723.10L37.70 714.10L38.60 714.10L40.20 723.10ZM43.40 723.10L44.30 714.10L45.20 714.10L46.80 723.10ZM50.80 723.10L51.70 714.10L52.60 714.10L54.20 723.10ZM58.90 723.10L59.80 714.10L60.70 714.10L62.30 723.10ZM67.70 723.10L68.60 714.10L69.50 714.10L71.10 723.10ZM77.20 723.10L78.10 714.10L79.00 714.10L80.60 723.10ZM87.20 723.10L88.10 714.10L89.00 714.10L90.60 723.10ZM99.00 723.10L99.90 714.10L100.80 714.10L102.40 723.10ZM111.10 723.10L112.00 714.10L112.90 714.10L114.50 723.10ZM125.10 723.10L126.00 714.10L126.90 714.10L128.50 723.10ZM140.80 723.10L141.70 714.10L142.60 714.10L144.20 723.10ZM158.10 723.10L159.00 714.10L159.90 714.10L161.50 723.10ZM177.80 723.10L178.70 714.10L179.60 714.10L181.20 723.10ZM200.60 723.10L201.50 714.10L202.40 714.10L204.00 723.10ZM226.80 723.10L227.70 718.15L228.60 718.15L230.20 723.10Z" fill="#1a1a1a"/>
<path d="M39.20 723.10V718.00M45.80 723.10V717.50M53.20 723.10V713.00M61.30 723.10V708.00M70.10 723.10V706.00M79.60 723.10V705.00M89.60 723.10V698.00M101.40 723.10V699.00M113.50 723.10V701.00M127.50 723.10V703.00M143.20 723.10V705.00M160.50 723.10V707.00M180.20 723.10V714.00M203.00 723.10V717.00M229.20 723.10V719.00" stroke="#151515" stroke-width="1.0" fill="none"/>
<path d="M31.80 723.10V707.00M38.00 723.10V678.00M44.60 723.10V621.40M52.00 723.10V601.30M60.10 723.10V575.00M68.90 723.10V553.80M78.40 723.10V545.50M88.40 723.10V546.80M100.20 723.10V549.30M112.30 723.10V578.90M126.30 723.10V601.50M142.00 723.10V608.00M159.30 723.10V639.60M179.00 723.10V671.80M201.80 723.10V696.40M228.00 723.10V713.20" stroke="#141414" stroke-width="1.3" fill="none"/>
<line x1="2.00" y1="723.10" x2="245.00" y2="723.10" stroke="#0d0d0d" stroke-width="1.5"/>
<path d="M15.83 723.10V725.70M29.90 723.10V725.70M43.98 723.10V725.70M58.05 723.10V725.70M72.12 723.10V725.70M86.20 723.10V725.70M100.28 723.10V725.70M114.35 723.10V725.70M128.43 723.10V725.70M142.50 723.10V725.70M156.57 723.10V725.70M170.65 723.10V725.70M184.72 723.10V725.70M198.80 723.10V725.70M212.88 723.10V725.70M226.95 723.10V725.70M241.02 723.10V725.70" stroke="#111" stroke-width="1.0" fill="none"/>
<text x="29.90" y="734.80" font-size="8.6" text-anchor="middle" textLength="12.68" lengthAdjust="spacingAndGlyphs" >600</text>
<text x="86.20" y="734.80" font-size="8.6" text-anchor="middle" textLength="12.68" lengthAdjust="spacingAndGlyphs" >800</text>
<text x="142.50" y="734.80" font-size="8.6" text-anchor="middle" textLength="16.91" lengthAdjust="spacingAndGlyphs" >1000</text>
<text x="198.80" y="734.80" font-size="8.6" text-anchor="middle" textLength="16.91" lengthAdjust="spacingAndGlyphs" >1200</text>
<text x="17.00" y="707.00" font-size="8.4" text-anchor="start" textLength="13.06" lengthAdjust="spacingAndGlyphs" >28+</text>
<text x="30.00" y="619.20" font-size="8.4" text-anchor="start" textLength="13.06" lengthAdjust="spacingAndGlyphs" >26+</text>
<text x="48.80" y="574.20" font-size="8.4" text-anchor="start" textLength="13.06" lengthAdjust="spacingAndGlyphs" >24+</text>
<text x="72.00" y="543.40" font-size="8.4" text-anchor="start" textLength="13.06" lengthAdjust="spacingAndGlyphs" >22+</text>
<text x="101.40" y="550.40" font-size="8.4" text-anchor="start" textLength="13.06" lengthAdjust="spacingAndGlyphs" >20+</text>
<text x="127.20" y="597.40" font-size="8.4" text-anchor="start" textLength="13.06" lengthAdjust="spacingAndGlyphs" >18+</text>
<text x="158.40" y="636.40" font-size="8.4" text-anchor="start" textLength="13.06" lengthAdjust="spacingAndGlyphs" >16+</text>
<text x="199.50" y="691.90" font-size="8.4" text-anchor="start" textLength="13.06" lengthAdjust="spacingAndGlyphs" >14+</text>
<text x="130.30" y="744.70" font-size="9.6" text-anchor="start" textLength="15.00" lengthAdjust="spacingAndGlyphs" >m/z</text>
<line x1="393.30" y1="11.00" x2="393.30" y2="207.00" stroke="#f2e2e7" stroke-width="0.9"/>
<path d="M333.00 94.80L363.00 76.30L393.00 65.50L423.00 45.00L453.00 23.30L483.00 55.90L513.00 129.80" fill="none" stroke="#a6cee3" stroke-width="1.4"/>
<path d="M333.00 92.05L335.75 94.80L333.00 97.55L330.25 94.80Z" fill="#fff" stroke="#a6cee3" stroke-width="1.45"/><path d="M363.00 73.55L365.75 76.30L363.00 79.05L360.25 76.30Z" fill="#fff" stroke="#a6cee3" stroke-width="1.45"/><path d="M393.00 62.75L395.75 65.50L393.00 68.25L390.25 65.50Z" fill="#fff" stroke="#a6cee3" stroke-width="1.45"/><path d="M423.00 42.25L425.75 45.00L423.00 47.75L420.25 45.00Z" fill="#fff" stroke="#a6cee3" stroke-width="1.45"/><path d="M453.00 20.55L455.75 23.30L453.00 26.05L450.25 23.30Z" fill="#fff" stroke="#a6cee3" stroke-width="1.45"/><path d="M483.00 53.15L485.75 55.90L483.00 58.65L480.25 55.90Z" fill="#fff" stroke="#a6cee3" stroke-width="1.45"/><path d="M513.00 127.05L515.75 129.80L513.00 132.55L510.25 129.80Z" fill="#fff" stroke="#a6cee3" stroke-width="1.45"/>
<path d="M333.00 81.80L363.00 79.50L393.00 75.50L423.00 51.80L453.00 29.20L483.00 39.50L513.00 47.10" fill="none" stroke="#1f78b4" stroke-width="1.6"/>
<path d="M333.00 79.05L335.75 81.80L333.00 84.55L330.25 81.80Z" fill="#fff" stroke="#1f78b4" stroke-width="1.6"/><path d="M363.00 76.75L365.75 79.50L363.00 82.25L360.25 79.50Z" fill="#fff" stroke="#1f78b4" stroke-width="1.6"/><path d="M393.00 72.75L395.75 75.50L393.00 78.25L390.25 75.50Z" fill="#fff" stroke="#1f78b4" stroke-width="1.6"/><path d="M423.00 49.05L425.75 51.80L423.00 54.55L420.25 51.80Z" fill="#fff" stroke="#1f78b4" stroke-width="1.6"/><path d="M453.00 26.45L455.75 29.20L453.00 31.95L450.25 29.20Z" fill="#fff" stroke="#1f78b4" stroke-width="1.6"/><path d="M483.00 36.75L485.75 39.50L483.00 42.25L480.25 39.50Z" fill="#fff" stroke="#1f78b4" stroke-width="1.6"/><path d="M513.00 44.35L515.75 47.10L513.00 49.85L510.25 47.10Z" fill="#fff" stroke="#1f78b4" stroke-width="1.6"/>
<path d="M333.00 128.00L363.00 127.00L393.00 117.50L423.00 102.50L453.00 75.00L483.00 67.60L513.00 54.40" fill="none" stroke="#afdb8e" stroke-width="1.45"/>
<path d="M333.00 125.25L335.75 128.00L333.00 130.75L330.25 128.00Z" fill="#fff" stroke="#afdb8e" stroke-width="1.45"/><path d="M363.00 124.25L365.75 127.00L363.00 129.75L360.25 127.00Z" fill="#fff" stroke="#afdb8e" stroke-width="1.45"/><path d="M393.00 114.75L395.75 117.50L393.00 120.25L390.25 117.50Z" fill="#fff" stroke="#afdb8e" stroke-width="1.45"/><path d="M423.00 99.75L425.75 102.50L423.00 105.25L420.25 102.50Z" fill="#fff" stroke="#afdb8e" stroke-width="1.45"/><path d="M453.00 72.25L455.75 75.00L453.00 77.75L450.25 75.00Z" fill="#fff" stroke="#afdb8e" stroke-width="1.45"/><path d="M483.00 64.85L485.75 67.60L483.00 70.35L480.25 67.60Z" fill="#fff" stroke="#afdb8e" stroke-width="1.45"/><path d="M513.00 51.65L515.75 54.40L513.00 57.15L510.25 54.40Z" fill="#fff" stroke="#afdb8e" stroke-width="1.45"/>
<path d="M333.00 147.00L363.00 148.00L393.00 142.50L423.00 128.30L453.00 121.50L483.00 117.70L513.00 117.00" fill="none" stroke="#2f9e3c" stroke-width="1.5"/>
<path d="M333.00 144.25L335.75 147.00L333.00 149.75L330.25 147.00Z" fill="#fff" stroke="#2f9e3c" stroke-width="1.6"/><path d="M363.00 145.25L365.75 148.00L363.00 150.75L360.25 148.00Z" fill="#fff" stroke="#2f9e3c" stroke-width="1.6"/><path d="M393.00 139.75L395.75 142.50L393.00 145.25L390.25 142.50Z" fill="#fff" stroke="#2f9e3c" stroke-width="1.6"/><path d="M423.00 125.55L425.75 128.30L423.00 131.05L420.25 128.30Z" fill="#fff" stroke="#2f9e3c" stroke-width="1.6"/><path d="M453.00 118.75L455.75 121.50L453.00 124.25L450.25 121.50Z" fill="#fff" stroke="#2f9e3c" stroke-width="1.6"/><path d="M483.00 114.95L485.75 117.70L483.00 120.45L480.25 117.70Z" fill="#fff" stroke="#2f9e3c" stroke-width="1.6"/><path d="M513.00 114.25L515.75 117.00L513.00 119.75L510.25 117.00Z" fill="#fff" stroke="#2f9e3c" stroke-width="1.6"/>
<path d="M303.00 13.60V207.00H543.00" fill="none" stroke="#0d0d0d" stroke-width="1.5"/>
<text x="296.00" y="210.10" font-size="9.0" text-anchor="end" textLength="4.34" lengthAdjust="spacingAndGlyphs" >0</text>
<text x="296.00" y="171.50" font-size="9.0" text-anchor="end" textLength="8.68" lengthAdjust="spacingAndGlyphs" >15</text>
<text x="296.00" y="132.90" font-size="9.0" text-anchor="end" textLength="8.68" lengthAdjust="spacingAndGlyphs" >30</text>
<text x="296.00" y="94.30" font-size="9.0" text-anchor="end" textLength="8.68" lengthAdjust="spacingAndGlyphs" >45</text>
<text x="296.00" y="55.70" font-size="9.0" text-anchor="end" textLength="8.68" lengthAdjust="spacingAndGlyphs" >60</text>
<text x="296.00" y="17.10" font-size="9.0" text-anchor="end" textLength="8.68" lengthAdjust="spacingAndGlyphs" >75</text>
<path d="M299.20 207.00H303.00M299.20 168.40H303.00M299.20 129.80H303.00M299.20 91.20H303.00M299.20 52.60H303.00M299.20 14.00H303.00M300.80 187.70H303.00M300.80 149.10H303.00M300.80 110.50H303.00M300.80 71.90H303.00M300.80 33.30H303.00M303.00 207.00V210.50M333.00 207.00V210.50M363.00 207.00V210.50M393.00 207.00V210.50M423.00 207.00V210.50M453.00 207.00V210.50M483.00 207.00V210.50M513.00 207.00V210.50M543.00 207.00V210.50" fill="none" stroke="#151515" stroke-width="1.1"/>
<text x="333.30" y="223.00" font-size="9.0" text-anchor="middle" textLength="8.68" lengthAdjust="spacingAndGlyphs" >13</text>
<text x="363.30" y="223.00" font-size="9.0" text-anchor="middle" textLength="8.68" lengthAdjust="spacingAndGlyphs" >12</text>
<text x="393.30" y="223.00" font-size="9.0" text-anchor="middle" textLength="8.10" lengthAdjust="spacingAndGlyphs" >11</text>
<text x="423.30" y="223.00" font-size="9.0" text-anchor="middle" textLength="8.68" lengthAdjust="spacingAndGlyphs" >10</text>
<text x="453.30" y="223.00" font-size="9.0" text-anchor="middle" textLength="4.34" lengthAdjust="spacingAndGlyphs" >9</text>
<text x="483.30" y="223.00" font-size="9.0" text-anchor="middle" textLength="4.34" lengthAdjust="spacingAndGlyphs" >8</text>
<text x="513.30" y="223.00" font-size="9.0" text-anchor="middle" textLength="4.34" lengthAdjust="spacingAndGlyphs" >7</text>
<text x="396.50" y="234.20" font-size="9.4" text-anchor="start" textLength="60.50" lengthAdjust="spacingAndGlyphs" >Charge States</text>
<text x="0" y="0" font-size="9.1" text-anchor="middle" textLength="112.5" lengthAdjust="spacingAndGlyphs" transform="translate(275.20 113.00) rotate(-90)">Number of Matched Peaks</text>
<line x1="405.00" y1="261.50" x2="405.00" y2="456.80" stroke="#f2e2e7" stroke-width="0.9"/>
<path d="M318.75 403.30L335.90 399.30L353.05 388.30L370.20 389.50L387.35 406.30L404.50 414.50L421.65 436.30L438.80 442.00L455.95 445.50L473.10 446.80L490.25 449.30" fill="none" stroke="#c0aad8" stroke-width="1.35"/>
<path d="M318.75 400.55L321.50 403.30L318.75 406.05L316.00 403.30Z" fill="#fff" stroke="#c0aad8" stroke-width="1.45"/><path d="M335.90 396.55L338.65 399.30L335.90 402.05L333.15 399.30Z" fill="#fff" stroke="#c0aad8" stroke-width="1.45"/><path d="M353.05 385.55L355.80 388.30L353.05 391.05L350.30 388.30Z" fill="#fff" stroke="#c0aad8" stroke-width="1.45"/><path d="M370.20 386.75L372.95 389.50L370.20 392.25L367.45 389.50Z" fill="#fff" stroke="#c0aad8" stroke-width="1.45"/><path d="M387.35 403.55L390.10 406.30L387.35 409.05L384.60 406.30Z" fill="#fff" stroke="#c0aad8" stroke-width="1.45"/><path d="M404.50 411.75L407.25 414.50L404.50 417.25L401.75 414.50Z" fill="#fff" stroke="#c0aad8" stroke-width="1.45"/><path d="M421.65 433.55L424.40 436.30L421.65 439.05L418.90 436.30Z" fill="#fff" stroke="#c0aad8" stroke-width="1.45"/><path d="M438.80 439.25L441.55 442.00L438.80 444.75L436.05 442.00Z" fill="#fff" stroke="#c0aad8" stroke-width="1.45"/><path d="M455.95 442.75L458.70 445.50L455.95 448.25L453.20 445.50Z" fill="#fff" stroke="#c0aad8" stroke-width="1.45"/><path d="M473.10 444.05L475.85 446.80L473.10 449.55L470.35 446.80Z" fill="#fff" stroke="#c0aad8" stroke-width="1.45"/><path d="M490.25 446.55L493.00 449.30L490.25 452.05L487.50 449.30Z" fill="#fff" stroke="#c0aad8" stroke-width="1.45"/>
<path d="M318.75 378.00L335.90 382.40L353.05 371.60L370.20 371.00L387.35 358.00L404.50 344.40L421.65 315.00L438.80 314.60L455.95 319.70L473.10 352.00L490.25 399.30L507.40 428.30L524.55 431.30" fill="none" stroke="#a6cee3" stroke-width="1.4"/>
<path d="M318.75 375.25L321.50 378.00L318.75 380.75L316.00 378.00Z" fill="#fff" stroke="#a6cee3" stroke-width="1.45"/><path d="M335.90 379.65L338.65 382.40L335.90 385.15L333.15 382.40Z" fill="#fff" stroke="#a6cee3" stroke-width="1.45"/><path d="M353.05 368.85L355.80 371.60L353.05 374.35L350.30 371.60Z" fill="#fff" stroke="#a6cee3" stroke-width="1.45"/><path d="M370.20 368.25L372.95 371.00L370.20 373.75L367.45 371.00Z" fill="#fff" stroke="#a6cee3" stroke-width="1.45"/><path d="M387.35 355.25L390.10 358.00L387.35 360.75L384.60 358.00Z" fill="#fff" stroke="#a6cee3" stroke-width="1.45"/><path d="M404.50 341.65L407.25 344.40L404.50 347.15L401.75 344.40Z" fill="#fff" stroke="#a6cee3" stroke-width="1.45"/><path d="M421.65 312.25L424.40 315.00L421.65 317.75L418.90 315.00Z" fill="#fff" stroke="#a6cee3" stroke-width="1.45"/><path d="M438.80 311.85L441.55 314.60L438.80 317.35L436.05 314.60Z" fill="#fff" stroke="#a6cee3" stroke-width="1.45"/><path d="M455.95 316.95L458.70 319.70L455.95 322.45L453.20 319.70Z" fill="#fff" stroke="#a6cee3" stroke-width="1.45"/><path d="M473.10 349.25L475.85 352.00L473.10 354.75L470.35 352.00Z" fill="#fff" stroke="#a6cee3" stroke-width="1.45"/><path d="M490.25 396.55L493.00 399.30L490.25 402.05L487.50 399.30Z" fill="#fff" stroke="#a6cee3" stroke-width="1.45"/><path d="M507.40 425.55L510.15 428.30L507.40 431.05L504.65 428.30Z" fill="#fff" stroke="#a6cee3" stroke-width="1.45"/><path d="M524.55 428.55L527.30 431.30L524.55 434.05L521.80 431.30Z" fill="#fff" stroke="#a6cee3" stroke-width="1.45"/>
<path d="M318.75 388.00L335.90 379.00L353.05 375.00L370.20 362.40L387.35 356.00L404.50 348.60L421.65 315.00L438.80 294.70L455.95 306.90L473.10 275.30L490.25 286.10L507.40 306.40L524.55 341.50" fill="none" stroke="#1f78b4" stroke-width="1.6"/>
<path d="M318.75 385.25L321.50 388.00L318.75 390.75L316.00 388.00Z" fill="#fff" stroke="#1f78b4" stroke-width="1.6"/><path d="M335.90 376.25L338.65 379.00L335.90 381.75L333.15 379.00Z" fill="#fff" stroke="#1f78b4" stroke-width="1.6"/><path d="M353.05 372.25L355.80 375.00L353.05 377.75L350.30 375.00Z" fill="#fff" stroke="#1f78b4" stroke-width="1.6"/><path d="M370.20 359.65L372.95 362.40L370.20 365.15L367.45 362.40Z" fill="#fff" stroke="#1f78b4" stroke-width="1.6"/><path d="M387.35 353.25L390.10 356.00L387.35 358.75L384.60 356.00Z" fill="#fff" stroke="#1f78b4" stroke-width="1.6"/><path d="M404.50 345.85L407.25 348.60L404.50 351.35L401.75 348.60Z" fill="#fff" stroke="#1f78b4" stroke-width="1.6"/><path d="M421.65 312.25L424.40 315.00L421.65 317.75L418.90 315.00Z" fill="#fff" stroke="#1f78b4" stroke-width="1.6"/><path d="M438.80 291.95L441.55 294.70L438.80 297.45L436.05 294.70Z" fill="#fff" stroke="#1f78b4" stroke-width="1.6"/><path d="M455.95 304.15L458.70 306.90L455.95 309.65L453.20 306.90Z" fill="#fff" stroke="#1f78b4" stroke-width="1.6"/><path d="M473.10 272.55L475.85 275.30L473.10 278.05L470.35 275.30Z" fill="#fff" stroke="#1f78b4" stroke-width="1.6"/><path d="M490.25 283.35L493.00 286.10L490.25 288.85L487.50 286.10Z" fill="#fff" stroke="#1f78b4" stroke-width="1.6"/><path d="M507.40 303.65L510.15 306.40L507.40 309.15L504.65 306.40Z" fill="#fff" stroke="#1f78b4" stroke-width="1.6"/><path d="M524.55 338.75L527.30 341.50L524.55 344.25L521.80 341.50Z" fill="#fff" stroke="#1f78b4" stroke-width="1.6"/>
<path d="M318.75 428.80L335.90 424.30L353.05 421.30L370.20 416.30L387.35 413.30L404.50 414.30L421.65 410.80L438.80 403.80L455.95 398.00L473.10 399.30L490.25 389.30L507.40 387.50L524.55 393.80" fill="none" stroke="#afdb8e" stroke-width="1.45"/>
<path d="M318.75 426.05L321.50 428.80L318.75 431.55L316.00 428.80Z" fill="#fff" stroke="#afdb8e" stroke-width="1.45"/><path d="M335.90 421.55L338.65 424.30L335.90 427.05L333.15 424.30Z" fill="#fff" stroke="#afdb8e" stroke-width="1.45"/><path d="M353.05 418.55L355.80 421.30L353.05 424.05L350.30 421.30Z" fill="#fff" stroke="#afdb8e" stroke-width="1.45"/><path d="M370.20 413.55L372.95 416.30L370.20 419.05L367.45 416.30Z" fill="#fff" stroke="#afdb8e" stroke-width="1.45"/><path d="M387.35 410.55L390.10 413.30L387.35 416.05L384.60 413.30Z" fill="#fff" stroke="#afdb8e" stroke-width="1.45"/><path d="M404.50 411.55L407.25 414.30L404.50 417.05L401.75 414.30Z" fill="#fff" stroke="#afdb8e" stroke-width="1.45"/><path d="M421.65 408.05L424.40 410.80L421.65 413.55L418.90 410.80Z" fill="#fff" stroke="#afdb8e" stroke-width="1.45"/><path d="M438.80 401.05L441.55 403.80L438.80 406.55L436.05 403.80Z" fill="#fff" stroke="#afdb8e" stroke-width="1.45"/><path d="M455.95 395.25L458.70 398.00L455.95 400.75L453.20 398.00Z" fill="#fff" stroke="#afdb8e" stroke-width="1.45"/><path d="M473.10 396.55L475.85 399.30L473.10 402.05L470.35 399.30Z" fill="#fff" stroke="#afdb8e" stroke-width="1.45"/><path d="M490.25 386.55L493.00 389.30L490.25 392.05L487.50 389.30Z" fill="#fff" stroke="#afdb8e" stroke-width="1.45"/><path d="M507.40 384.75L510.15 387.50L507.40 390.25L504.65 387.50Z" fill="#fff" stroke="#afdb8e" stroke-width="1.45"/><path d="M524.55 391.05L527.30 393.80L524.55 396.55L521.80 393.80Z" fill="#fff" stroke="#afdb8e" stroke-width="1.45"/>
<path d="M301.60 263.80V456.80H542.70" fill="none" stroke="#0d0d0d" stroke-width="1.5"/>
<text x="294.60" y="459.90" font-size="9.0" text-anchor="end" textLength="4.34" lengthAdjust="spacingAndGlyphs" >0</text>
<text x="294.60" y="427.73" font-size="9.0" text-anchor="end" textLength="8.68" lengthAdjust="spacingAndGlyphs" >15</text>
<text x="294.60" y="395.56" font-size="9.0" text-anchor="end" textLength="8.68" lengthAdjust="spacingAndGlyphs" >30</text>
<text x="294.60" y="363.39" font-size="9.0" text-anchor="end" textLength="8.68" lengthAdjust="spacingAndGlyphs" >45</text>
<text x="294.60" y="331.22" font-size="9.0" text-anchor="end" textLength="8.68" lengthAdjust="spacingAndGlyphs" >60</text>
<text x="294.60" y="299.05" font-size="9.0" text-anchor="end" textLength="8.68" lengthAdjust="spacingAndGlyphs" >75</text>
<text x="294.60" y="266.88" font-size="9.0" text-anchor="end" textLength="8.68" lengthAdjust="spacingAndGlyphs" >90</text>
<path d="M297.80 456.80H301.60M297.80 424.63H301.60M297.80 392.46H301.60M297.80 360.29H301.60M297.80 328.12H301.60M297.80 295.95H301.60M297.80 263.78H301.60M299.40 440.72H301.60M299.40 408.55H301.60M299.40 376.38H301.60M299.40 344.21H301.60M299.40 312.03H301.60M299.40 279.87H301.60M301.60 456.80V460.30M318.75 456.80V460.30M353.05 456.80V460.30M387.35 456.80V460.30M421.65 456.80V460.30M455.95 456.80V460.30M490.25 456.80V460.30M524.55 456.80V460.30M335.90 456.80V459.00M370.20 456.80V459.00M404.50 456.80V459.00M438.80 456.80V459.00M473.10 456.80V459.00M507.40 456.80V459.00M541.70 456.80V459.00" fill="none" stroke="#151515" stroke-width="1.1"/>
<text x="319.05" y="470.40" font-size="9.0" text-anchor="middle" textLength="8.68" lengthAdjust="spacingAndGlyphs" >20</text>
<text x="353.35" y="470.40" font-size="9.0" text-anchor="middle" textLength="8.68" lengthAdjust="spacingAndGlyphs" >18</text>
<text x="387.65" y="470.40" font-size="9.0" text-anchor="middle" textLength="8.68" lengthAdjust="spacingAndGlyphs" >16</text>
<text x="421.95" y="470.40" font-size="9.0" text-anchor="middle" textLength="8.68" lengthAdjust="spacingAndGlyphs" >14</text>
<text x="456.25" y="470.40" font-size="9.0" text-anchor="middle" textLength="8.68" lengthAdjust="spacingAndGlyphs" >12</text>
<text x="490.55" y="470.40" font-size="9.0" text-anchor="middle" textLength="8.68" lengthAdjust="spacingAndGlyphs" >10</text>
<text x="524.85" y="470.40" font-size="9.0" text-anchor="middle" textLength="4.34" lengthAdjust="spacingAndGlyphs" >8</text>
<text x="392.00" y="485.60" font-size="9.4" text-anchor="start" textLength="59.80" lengthAdjust="spacingAndGlyphs" >Charge states</text>
<text x="0" y="0" font-size="9.1" text-anchor="middle" textLength="112.5" lengthAdjust="spacingAndGlyphs" transform="translate(275.20 354.80) rotate(-90)">Number of Matched Peaks</text>
<text x="542.90" y="338.00" font-size="9.7" text-anchor="start" textLength="53.80" lengthAdjust="spacingAndGlyphs" >HCD Energy</text>
<line x1="548.90" y1="346.60" x2="571.70" y2="346.60" stroke="#c0aad8" stroke-width="1.75"/>
<path d="M560.50 343.85L563.25 346.60L560.50 349.35L557.75 346.60Z" fill="#fff" stroke="#c0aad8" stroke-width="1.35"/>
<text x="574.80" y="350.80" font-size="9.8" text-anchor="start" textLength="8.80" lengthAdjust="spacingAndGlyphs" >10</text>
<line x1="548.90" y1="358.82" x2="571.70" y2="358.82" stroke="#a6cee3" stroke-width="1.75"/>
<path d="M560.50 356.07L563.25 358.82L560.50 361.57L557.75 358.82Z" fill="#fff" stroke="#a6cee3" stroke-width="1.35"/>
<text x="574.80" y="363.02" font-size="9.8" text-anchor="start" textLength="8.80" lengthAdjust="spacingAndGlyphs" >15</text>
<line x1="548.90" y1="371.04" x2="571.70" y2="371.04" stroke="#1f78b4" stroke-width="1.75"/>
<path d="M560.50 368.29L563.25 371.04L560.50 373.79L557.75 371.04Z" fill="#fff" stroke="#1f78b4" stroke-width="1.5"/>
<text x="574.80" y="375.24" font-size="9.8" text-anchor="start" textLength="8.80" lengthAdjust="spacingAndGlyphs" >20</text>
<line x1="548.90" y1="383.26" x2="571.70" y2="383.26" stroke="#afdb8e" stroke-width="1.75"/>
<path d="M560.50 380.51L563.25 383.26L560.50 386.01L557.75 383.26Z" fill="#fff" stroke="#afdb8e" stroke-width="1.35"/>
<text x="574.80" y="387.46" font-size="9.8" text-anchor="start" textLength="8.80" lengthAdjust="spacingAndGlyphs" >25</text>
<line x1="548.90" y1="395.48" x2="571.70" y2="395.48" stroke="#2f9e3c" stroke-width="1.75"/>
<path d="M560.50 392.73L563.25 395.48L560.50 398.23L557.75 395.48Z" fill="#fff" stroke="#2f9e3c" stroke-width="1.5"/>
<text x="574.80" y="399.68" font-size="9.8" text-anchor="start" textLength="8.80" lengthAdjust="spacingAndGlyphs" >30</text>
<line x1="405.00" y1="527.00" x2="405.00" y2="719.90" stroke="#f2e2e7" stroke-width="0.9"/>
<path d="M319.00 685.00L336.20 679.50L353.40 672.50L370.60 658.80L387.80 665.80L405.00 641.30L422.20 596.30L439.40 621.30L456.60 623.30L473.80 629.30L491.00 657.50L508.20 674.80L525.40 678.80" fill="none" stroke="#c0aad8" stroke-width="1.35"/>
<path d="M319.00 682.25L321.75 685.00L319.00 687.75L316.25 685.00Z" fill="#fff" stroke="#c0aad8" stroke-width="1.45"/><path d="M336.20 676.75L338.95 679.50L336.20 682.25L333.45 679.50Z" fill="#fff" stroke="#c0aad8" stroke-width="1.45"/><path d="M353.40 669.75L356.15 672.50L353.40 675.25L350.65 672.50Z" fill="#fff" stroke="#c0aad8" stroke-width="1.45"/><path d="M370.60 656.05L373.35 658.80L370.60 661.55L367.85 658.80Z" fill="#fff" stroke="#c0aad8" stroke-width="1.45"/><path d="M387.80 663.05L390.55 665.80L387.80 668.55L385.05 665.80Z" fill="#fff" stroke="#c0aad8" stroke-width="1.45"/><path d="M405.00 638.55L407.75 641.30L405.00 644.05L402.25 641.30Z" fill="#fff" stroke="#c0aad8" stroke-width="1.45"/><path d="M422.20 593.55L424.95 596.30L422.20 599.05L419.45 596.30Z" fill="#fff" stroke="#c0aad8" stroke-width="1.45"/><path d="M439.40 618.55L442.15 621.30L439.40 624.05L436.65 621.30Z" fill="#fff" stroke="#c0aad8" stroke-width="1.45"/><path d="M456.60 620.55L459.35 623.30L456.60 626.05L453.85 623.30Z" fill="#fff" stroke="#c0aad8" stroke-width="1.45"/><path d="M473.80 626.55L476.55 629.30L473.80 632.05L471.05 629.30Z" fill="#fff" stroke="#c0aad8" stroke-width="1.45"/><path d="M491.00 654.75L493.75 657.50L491.00 660.25L488.25 657.50Z" fill="#fff" stroke="#c0aad8" stroke-width="1.45"/><path d="M508.20 672.05L510.95 674.80L508.20 677.55L505.45 674.80Z" fill="#fff" stroke="#c0aad8" stroke-width="1.45"/><path d="M525.40 676.05L528.15 678.80L525.40 681.55L522.65 678.80Z" fill="#fff" stroke="#c0aad8" stroke-width="1.45"/>
<path d="M319.00 681.80L336.20 675.80L353.40 676.80L370.60 678.00L387.80 674.30L405.00 660.00L422.20 633.80L439.40 619.50L456.60 616.30L473.80 606.30L491.00 609.50L508.20 570.80L525.40 541.30" fill="none" stroke="#a6cee3" stroke-width="1.4"/>
<path d="M319.00 679.05L321.75 681.80L319.00 684.55L316.25 681.80Z" fill="#fff" stroke="#a6cee3" stroke-width="1.45"/><path d="M336.20 673.05L338.95 675.80L336.20 678.55L333.45 675.80Z" fill="#fff" stroke="#a6cee3" stroke-width="1.45"/><path d="M353.40 674.05L356.15 676.80L353.40 679.55L350.65 676.80Z" fill="#fff" stroke="#a6cee3" stroke-width="1.45"/><path d="M370.60 675.25L373.35 678.00L370.60 680.75L367.85 678.00Z" fill="#fff" stroke="#a6cee3" stroke-width="1.45"/><path d="M387.80 671.55L390.55 674.30L387.80 677.05L385.05 674.30Z" fill="#fff" stroke="#a6cee3" stroke-width="1.45"/><path d="M405.00 657.25L407.75 660.00L405.00 662.75L402.25 660.00Z" fill="#fff" stroke="#a6cee3" stroke-width="1.45"/><path d="M422.20 631.05L424.95 633.80L422.20 636.55L419.45 633.80Z" fill="#fff" stroke="#a6cee3" stroke-width="1.45"/><path d="M439.40 616.75L442.15 619.50L439.40 622.25L436.65 619.50Z" fill="#fff" stroke="#a6cee3" stroke-width="1.45"/><path d="M456.60 613.55L459.35 616.30L456.60 619.05L453.85 616.30Z" fill="#fff" stroke="#a6cee3" stroke-width="1.45"/><path d="M473.80 603.55L476.55 606.30L473.80 609.05L471.05 606.30Z" fill="#fff" stroke="#a6cee3" stroke-width="1.45"/><path d="M491.00 606.75L493.75 609.50L491.00 612.25L488.25 609.50Z" fill="#fff" stroke="#a6cee3" stroke-width="1.45"/><path d="M508.20 568.05L510.95 570.80L508.20 573.55L505.45 570.80Z" fill="#fff" stroke="#a6cee3" stroke-width="1.45"/><path d="M525.40 538.55L528.15 541.30L525.40 544.05L522.65 541.30Z" fill="#fff" stroke="#a6cee3" stroke-width="1.45"/>
<path d="M319.00 693.00L336.20 692.00L353.40 688.30L370.60 697.50L387.80 694.50L405.00 693.50L422.20 691.00L439.40 683.90L456.60 675.40L473.80 656.70L491.00 607.00L508.20 590.00L525.40 555.00" fill="none" stroke="#1f78b4" stroke-width="1.6"/>
<path d="M319.00 690.25L321.75 693.00L319.00 695.75L316.25 693.00Z" fill="#fff" stroke="#1f78b4" stroke-width="1.6"/><path d="M336.20 689.25L338.95 692.00L336.20 694.75L333.45 692.00Z" fill="#fff" stroke="#1f78b4" stroke-width="1.6"/><path d="M353.40 685.55L356.15 688.30L353.40 691.05L350.65 688.30Z" fill="#fff" stroke="#1f78b4" stroke-width="1.6"/><path d="M370.60 694.75L373.35 697.50L370.60 700.25L367.85 697.50Z" fill="#fff" stroke="#1f78b4" stroke-width="1.6"/><path d="M387.80 691.75L390.55 694.50L387.80 697.25L385.05 694.50Z" fill="#fff" stroke="#1f78b4" stroke-width="1.6"/><path d="M405.00 690.75L407.75 693.50L405.00 696.25L402.25 693.50Z" fill="#fff" stroke="#1f78b4" stroke-width="1.6"/><path d="M422.20 688.25L424.95 691.00L422.20 693.75L419.45 691.00Z" fill="#fff" stroke="#1f78b4" stroke-width="1.6"/><path d="M439.40 681.15L442.15 683.90L439.40 686.65L436.65 683.90Z" fill="#fff" stroke="#1f78b4" stroke-width="1.6"/><path d="M456.60 672.65L459.35 675.40L456.60 678.15L453.85 675.40Z" fill="#fff" stroke="#1f78b4" stroke-width="1.6"/><path d="M473.80 653.95L476.55 656.70L473.80 659.45L471.05 656.70Z" fill="#fff" stroke="#1f78b4" stroke-width="1.6"/><path d="M491.00 604.25L493.75 607.00L491.00 609.75L488.25 607.00Z" fill="#fff" stroke="#1f78b4" stroke-width="1.6"/><path d="M508.20 587.25L510.95 590.00L508.20 592.75L505.45 590.00Z" fill="#fff" stroke="#1f78b4" stroke-width="1.6"/><path d="M525.40 552.25L528.15 555.00L525.40 557.75L522.65 555.00Z" fill="#fff" stroke="#1f78b4" stroke-width="1.6"/>
<path d="M319.00 705.00L336.20 705.50L353.40 705.50L370.60 707.00L387.80 702.00L405.00 703.30L422.20 702.40L439.40 701.50L456.60 696.10L473.80 688.70L491.00 672.60L508.20 670.60L525.40 663.20" fill="none" stroke="#afdb8e" stroke-width="1.45"/>
<path d="M319.00 702.25L321.75 705.00L319.00 707.75L316.25 705.00Z" fill="#fff" stroke="#afdb8e" stroke-width="1.45"/><path d="M336.20 702.75L338.95 705.50L336.20 708.25L333.45 705.50Z" fill="#fff" stroke="#afdb8e" stroke-width="1.45"/><path d="M353.40 702.75L356.15 705.50L353.40 708.25L350.65 705.50Z" fill="#fff" stroke="#afdb8e" stroke-width="1.45"/><path d="M370.60 704.25L373.35 707.00L370.60 709.75L367.85 707.00Z" fill="#fff" stroke="#afdb8e" stroke-width="1.45"/><path d="M387.80 699.25L390.55 702.00L387.80 704.75L385.05 702.00Z" fill="#fff" stroke="#afdb8e" stroke-width="1.45"/><path d="M405.00 700.55L407.75 703.30L405.00 706.05L402.25 703.30Z" fill="#fff" stroke="#afdb8e" stroke-width="1.45"/><path d="M422.20 699.65L424.95 702.40L422.20 705.15L419.45 702.40Z" fill="#fff" stroke="#afdb8e" stroke-width="1.45"/><path d="M439.40 698.75L442.15 701.50L439.40 704.25L436.65 701.50Z" fill="#fff" stroke="#afdb8e" stroke-width="1.45"/><path d="M456.60 693.35L459.35 696.10L456.60 698.85L453.85 696.10Z" fill="#fff" stroke="#afdb8e" stroke-width="1.45"/><path d="M473.80 685.95L476.55 688.70L473.80 691.45L471.05 688.70Z" fill="#fff" stroke="#afdb8e" stroke-width="1.45"/><path d="M491.00 669.85L493.75 672.60L491.00 675.35L488.25 672.60Z" fill="#fff" stroke="#afdb8e" stroke-width="1.45"/><path d="M508.20 667.85L510.95 670.60L508.20 673.35L505.45 670.60Z" fill="#fff" stroke="#afdb8e" stroke-width="1.45"/><path d="M525.40 660.45L528.15 663.20L525.40 665.95L522.65 663.20Z" fill="#fff" stroke="#afdb8e" stroke-width="1.45"/>
<path d="M319.00 714.30L336.20 714.30L353.40 713.00L370.60 715.00L387.80 715.00L405.00 714.30L422.20 713.10L439.40 713.70L456.60 713.70L473.80 708.60L491.00 703.20L508.20 696.70L525.40 700.40" fill="none" stroke="#2f9e3c" stroke-width="1.5"/>
<path d="M319.00 711.55L321.75 714.30L319.00 717.05L316.25 714.30Z" fill="#fff" stroke="#2f9e3c" stroke-width="1.6"/><path d="M336.20 711.55L338.95 714.30L336.20 717.05L333.45 714.30Z" fill="#fff" stroke="#2f9e3c" stroke-width="1.6"/><path d="M353.40 710.25L356.15 713.00L353.40 715.75L350.65 713.00Z" fill="#fff" stroke="#2f9e3c" stroke-width="1.6"/><path d="M370.60 712.25L373.35 715.00L370.60 717.75L367.85 715.00Z" fill="#fff" stroke="#2f9e3c" stroke-width="1.6"/><path d="M387.80 712.25L390.55 715.00L387.80 717.75L385.05 715.00Z" fill="#fff" stroke="#2f9e3c" stroke-width="1.6"/><path d="M405.00 711.55L407.75 714.30L405.00 717.05L402.25 714.30Z" fill="#fff" stroke="#2f9e3c" stroke-width="1.6"/><path d="M422.20 710.35L424.95 713.10L422.20 715.85L419.45 713.10Z" fill="#fff" stroke="#2f9e3c" stroke-width="1.6"/><path d="M439.40 710.95L442.15 713.70L439.40 716.45L436.65 713.70Z" fill="#fff" stroke="#2f9e3c" stroke-width="1.6"/><path d="M456.60 710.95L459.35 713.70L456.60 716.45L453.85 713.70Z" fill="#fff" stroke="#2f9e3c" stroke-width="1.6"/><path d="M473.80 705.85L476.55 708.60L473.80 711.35L471.05 708.60Z" fill="#fff" stroke="#2f9e3c" stroke-width="1.6"/><path d="M491.00 700.45L493.75 703.20L491.00 705.95L488.25 703.20Z" fill="#fff" stroke="#2f9e3c" stroke-width="1.6"/><path d="M508.20 693.95L510.95 696.70L508.20 699.45L505.45 696.70Z" fill="#fff" stroke="#2f9e3c" stroke-width="1.6"/><path d="M525.40 697.65L528.15 700.40L525.40 703.15L522.65 700.40Z" fill="#fff" stroke="#2f9e3c" stroke-width="1.6"/>
<path d="M301.80 526.60V719.90H542.70" fill="none" stroke="#0d0d0d" stroke-width="1.5"/>
<text x="294.80" y="723.00" font-size="9.0" text-anchor="end" textLength="4.34" lengthAdjust="spacingAndGlyphs" >0</text>
<text x="294.80" y="695.39" font-size="9.0" text-anchor="end" textLength="8.68" lengthAdjust="spacingAndGlyphs" >10</text>
<text x="294.80" y="667.78" font-size="9.0" text-anchor="end" textLength="8.68" lengthAdjust="spacingAndGlyphs" >20</text>
<text x="294.80" y="640.17" font-size="9.0" text-anchor="end" textLength="8.68" lengthAdjust="spacingAndGlyphs" >30</text>
<text x="294.80" y="612.56" font-size="9.0" text-anchor="end" textLength="8.68" lengthAdjust="spacingAndGlyphs" >40</text>
<text x="294.80" y="584.95" font-size="9.0" text-anchor="end" textLength="8.68" lengthAdjust="spacingAndGlyphs" >50</text>
<text x="294.80" y="557.34" font-size="9.0" text-anchor="end" textLength="8.68" lengthAdjust="spacingAndGlyphs" >60</text>
<text x="294.80" y="529.73" font-size="9.0" text-anchor="end" textLength="8.68" lengthAdjust="spacingAndGlyphs" >70</text>
<path d="M298.00 719.90H301.80M298.00 692.29H301.80M298.00 664.68H301.80M298.00 637.07H301.80M298.00 609.46H301.80M298.00 581.85H301.80M298.00 554.24H301.80M298.00 526.63H301.80M299.60 706.10H301.80M299.60 678.49H301.80M299.60 650.88H301.80M299.60 623.26H301.80M299.60 595.65H301.80M299.60 568.04H301.80M299.60 540.43H301.80M301.80 719.90V723.40M336.20 719.90V723.40M370.60 719.90V723.40M405.00 719.90V723.40M439.40 719.90V723.40M473.80 719.90V723.40M508.20 719.90V723.40M542.60 719.90V723.40M319.00 719.90V722.10M353.40 719.90V722.10M387.80 719.90V722.10M422.20 719.90V722.10M456.60 719.90V722.10M491.00 719.90V722.10M525.40 719.90V722.10" fill="none" stroke="#151515" stroke-width="1.1"/>
<text x="302.10" y="733.00" font-size="9.0" text-anchor="middle" textLength="8.68" lengthAdjust="spacingAndGlyphs" >28</text>
<text x="336.50" y="733.00" font-size="9.0" text-anchor="middle" textLength="8.68" lengthAdjust="spacingAndGlyphs" >26</text>
<text x="370.90" y="733.00" font-size="9.0" text-anchor="middle" textLength="8.68" lengthAdjust="spacingAndGlyphs" >24</text>
<text x="405.30" y="733.00" font-size="9.0" text-anchor="middle" textLength="8.68" lengthAdjust="spacingAndGlyphs" >22</text>
<text x="439.70" y="733.00" font-size="9.0" text-anchor="middle" textLength="8.68" lengthAdjust="spacingAndGlyphs" >20</text>
<text x="474.10" y="733.00" font-size="9.0" text-anchor="middle" textLength="8.68" lengthAdjust="spacingAndGlyphs" >18</text>
<text x="508.50" y="733.00" font-size="9.0" text-anchor="middle" textLength="8.68" lengthAdjust="spacingAndGlyphs" >16</text>
<text x="542.90" y="733.00" font-size="9.0" text-anchor="middle" textLength="8.68" lengthAdjust="spacingAndGlyphs" >14</text>
<text x="392.50" y="747.80" font-size="9.4" text-anchor="start" textLength="58.60" lengthAdjust="spacingAndGlyphs" >Charge states</text>
<text x="0" y="0" font-size="9.1" text-anchor="middle" textLength="112.5" lengthAdjust="spacingAndGlyphs" transform="translate(275.40 617.70) rotate(-90)">Number of Matched Peaks</text>
</svg></body></html>
